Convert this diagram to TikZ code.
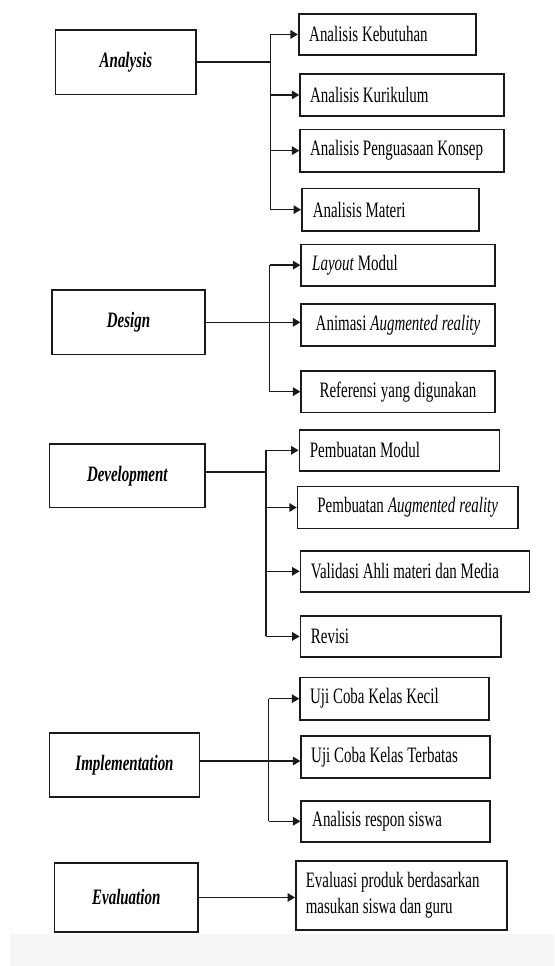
\documentclass[tikz,border=0pt]{standalone}
\usepackage{fontspec}
\setmainfont{Liberation Serif}[FakeStretch=0.68]
\usetikzlibrary{arrows.meta}
\definecolor{linecol}{HTML}{1A1A1A}
\definecolor{bandcol}{HTML}{F6F6F6}
\newcommand\myfont{\fontsize{22}{25.5}\selectfont}
\newcommand\myspace{\spaceskip=3.8pt plus 1pt minus 1pt\xspaceskip=3.8pt plus 1pt minus 1pt\relax}
\tikzset{
  box/.style={draw=linecol, line width=1.6pt, inner sep=0pt, anchor=north west,
    font=\myfont},
  phase/.style={box, font=\myfont\bfseries\itshape},
  conn/.style={draw=linecol, line width=1.6pt},
  arr/.style={conn, -{Triangle[length=7.5pt,width=8.5pt]}}
}
\newcommand\mybox[9]{% style name x1 y1 x2 y2 inset align text
  \pgfmathsetmacro\bw{#5-#3}%
  \pgfmathsetmacro\bh{#6-#4}%
  \pgfmathsetmacro\tw{#5-#3-2*#7}%
  \node[#1, minimum width=\bw pt, minimum height=\bh pt, text width=\tw pt, align=#8] (#2) at (#3,#4) {\myspace #9};%
}
\begin{document}
\begin{tikzpicture}[x=1pt,y=-1pt]
\useasboundingbox (0,0) rectangle (554,966);
\fill[bandcol] (10,934) rectangle (554,966);

% Analysis
\mybox{phase}{A}{54.8}{29}{195.4}{93.7}{5}{center}{Analysis}
\mybox{box}{A1}{297.9}{13}{474.9}{54.3}{10.5}{left}{Analisis Kebutuhan}
\mybox{box}{A2}{299.3}{73}{503.2}{115.3}{10}{left}{Analisis Kurikulum}
\mybox{box}{A3}{299.3}{128.7}{503.2}{171}{10}{left}{Analisis Penguasaan Konsep}
\mybox{box}{A4}{301}{187.7}{478.4}{230}{11}{left}{Analisis Materi}
\coordinate (sA) at (270.3,61);
\draw[conn] (A.east) -- (A.east -| sA);
\draw[conn] (sA |- A1.west) -- (sA |- A4.west);
\foreach \n in {A1,A2,A3,A4}{\draw[arr] (sA |- \n.west) -- (\n.west);}

% Design
\mybox{phase}{D}{51.2}{289.3}{204.2}{353.7}{5}{center}{Design}
\mybox{box}{D1}{300.4}{243.7}{494}{285}{11}{left}{\textit{Layout} Modul}
\mybox{box}{D2}{300.4}{303.3}{494}{345.3}{5}{center}{Animasi \textit{Augmented reality}}
\mybox{box}{D3}{300.4}{370}{494}{411.7}{5}{center}{Referensi yang digunakan}
\coordinate (sD) at (269.6,321);
\draw[conn] (sD |- D1.west) -- (sD |- D3.west);
\draw[arr] (D.east) -- (D.east -| D2.west);
\foreach \n in {D1,D3}{\draw[arr] (sD |- \n.west) -- (\n.west);}

% Development
\mybox{phase}{V}{48.8}{443.3}{204.2}{506.7}{5}{center}{Development}
\mybox{box}{V1}{298.6}{429}{498.6}{470}{10.5}{left}{Pembuatan Modul}
\mybox{box}{V2}{296.8}{485.7}{517}{527.7}{5}{center}{Pembuatan \textit{Augmented reality}}
\mybox{box}{V3}{299.6}{550}{528.6}{591}{10.5}{left}{Validasi Ahli materi dan Media}
\mybox{box}{V4}{299.6}{615.3}{500}{656}{10.5}{left}{Revisi}
\coordinate (sV) at (266,472);
\draw[conn] (V.east |- sV) -- (sV);
\draw[conn] (sV |- V1.west) -- (sV |- V4.west);
\foreach \n in {V1,V2,V3,V4}{\draw[arr] (sV |- \n.west) -- (\n.west);}

% Implementation
\mybox{phase}{I}{48.8}{732.3}{198.6}{796.3}{5}{center}{Implementation}
\mybox{box}{I1}{299.3}{676.7}{488.3}{719}{10}{left}{Uji Coba Kelas Kecil}
\mybox{box}{I2}{300.4}{735}{489.4}{777.3}{10}{left}{Uji Coba Kelas Terbatas}
\mybox{box}{I3}{300.4}{800}{489.4}{841}{11}{left}{Analisis respon siswa}
\coordinate (sI) at (268.6,761);
\draw[conn] (sI |- I1.west) -- (sI |- I3.west);
\draw[arr] (I.east |- sI) -- (I2.west |- sI);
\foreach \n in {I1,I3}{\draw[arr] (sI |- \n.west) -- (\n.west);}

% Evaluation
\mybox{phase}{E}{53.7}{862.3}{197.2}{931}{5}{center}{Evaluation}
\mybox{box}{E1}{295}{860}{506.4}{929}{10}{left}{Evaluasi produk berdasarkan\\masukan siswa dan guru}
\draw[arr] (E.east) -- (E.east -| E1.west);
\end{tikzpicture}
\end{document}
